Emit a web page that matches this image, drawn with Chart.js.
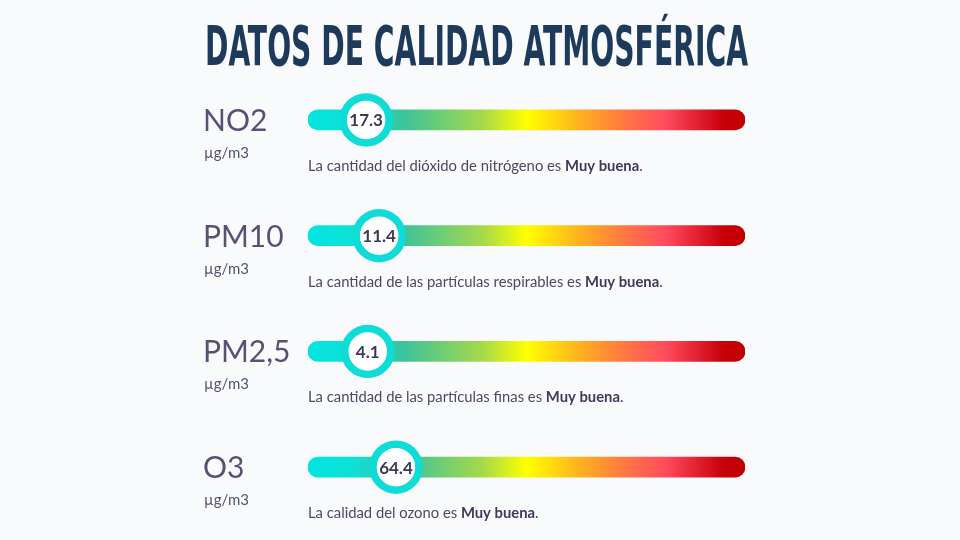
<!DOCTYPE html>
<html>
<head>
<meta charset="utf-8">
<script src="https://cdn.jsdelivr.net/npm/chart.js@4/dist/chart.umd.min.js"></script>
<style>
  html, body { margin: 0; padding: 0; background: #f9fafc; }
  #wrap { width: 960px; height: 540px; position: relative; }
</style>
</head>
<body>
<div id="wrap"><canvas id="calidadChart"></canvas></div>
<script>
// datos
const titulo = 'DATOS DE CALIDAD ATMOSFÉRICA';
const contaminantes = ['NO2', 'PM10', 'PM2,5', 'O3'];
const valores = [17.3, 11.4, 4.1, 64.4];
const escalaMax = [130, 70, 30, 320]; // máximo de cada barra
const unidad = 'µg/m3';
const descripciones = [
    'La cantidad del dióxido de nitrógeno es ',
    'La cantidad de las partículas respirables es ',
    'La cantidad de las partículas finas es ',
    'La calidad del ozono es '
];
const calificaciones = ['Muy buena', 'Muy buena', 'Muy buena', 'Muy buena'];

const cian = '#0fdcd6';

function degradado(chart) {
    const area = chart.chartArea;
    if (!area) return cian;
    const g = chart.ctx.createLinearGradient(area.left, 0, area.right, 0);
    g.addColorStop(0, '#00e5e0');
    g.addColorStop(0.1, '#0fe0d6');
    g.addColorStop(0.22, '#3cc39a');
    g.addColorStop(0.4, '#a6d94a');
    g.addColorStop(0.5, '#ffff00');
    g.addColorStop(0.62, '#ffb21e');
    g.addColorStop(0.72, '#ff7a40');
    g.addColorStop(0.82, '#ff4a5f');
    g.addColorStop(0.95, '#c8000a');
    g.addColorStop(1, '#c00000');
    return g;
}

const textos = {
    id: 'textos',
    afterDraw(chart) {
        const ctx = chart.ctx;
        const y = chart.scales.y;
        const left = chart.chartArea.left;
        ctx.save();

        // título
        ctx.font = 'bold 55px "Liberation Sans Narrow", "DejaVu Sans Condensed", sans-serif';
        const w = ctx.measureText(titulo).width;
        ctx.fillStyle = '#1d3a5a';
        ctx.textBaseline = 'alphabetic';
        ctx.textAlign = 'left';
        ctx.translate(205, 65);
        ctx.scale(543 / w, 1);
        ctx.fillText(titulo, 0, 0);
        ctx.setTransform(1, 0, 0, 1, 0, 0);

        contaminantes.forEach((c, i) => {
            const yc = y.getPixelForValue(i);
            ctx.textAlign = 'left';
            ctx.fillStyle = '#575273';
            ctx.font = '30px Lato, sans-serif';
            ctx.fillText(c, 203, yc + 11);
            ctx.font = '15px Lato, sans-serif';
            ctx.fillText(unidad, 204, yc + 38);

            ctx.fillStyle = '#4d4865';
            ctx.font = '14.8px Lato, sans-serif';
            ctx.fillText(descripciones[i], left, yc + 51);
            let x = left + ctx.measureText(descripciones[i]).width;
            ctx.font = 'bold 14.8px Lato, sans-serif';
            ctx.fillStyle = '#3f3a5c';
            ctx.fillText(calificaciones[i], x, yc + 51);
            x += ctx.measureText(calificaciones[i]).width;
            ctx.font = '14.8px Lato, sans-serif';
            ctx.fillText('.', x, yc + 51);
        });

        // valores dentro de los círculos
        const meta = chart.getDatasetMeta(0);
        ctx.font = 'bold 17px Lato, sans-serif';
        ctx.fillStyle = '#3d3858';
        ctx.textAlign = 'center';
        ctx.textBaseline = 'middle';
        meta.data.forEach((p, i) => {
            ctx.fillText(valores[i].toFixed(1), p.x, p.y + 1);
        });
        ctx.restore();
    }
};

const ctx = document.getElementById('calidadChart').getContext('2d');
const calidadChart = new Chart(ctx, {
    data: {
        labels: contaminantes,
        datasets: [{
            type: 'line',
            data: valores.map((v, i) => ({ x: v / escalaMax[i], y: contaminantes[i] })),
            showLine: false,
            pointRadius: 23,
            pointHoverRadius: 23,
            pointBorderWidth: 7.5,
            pointHoverBorderWidth: 7.5,
            pointBackgroundColor: '#ffffff',
            pointBorderColor: cian,
            clip: false,
            order: 0
        }, {
            type: 'bar',
            data: contaminantes.map(() => 1),
            backgroundColor: (c) => degradado(c.chart),
            borderRadius: 10,
            borderSkipped: false,
            barThickness: 20,
            order: 1
        }]
    },
    options: {
        indexAxis: 'y',
        responsive: true,
        maintainAspectRatio: false,
        animation: false,
        events: [],
        layout: { autoPadding: false, padding: { left: 308, right: 215, top: 62, bottom: 15 } },
        plugins: {
            legend: { display: false },
            tooltip: { enabled: false }
        },
        scales: {
            x: { type: 'linear', min: 0, max: 1, display: false },
            y: { type: 'category', display: false, offset: true }
        }
    },
    plugins: [textos]
});
</script>
</body>
</html>
